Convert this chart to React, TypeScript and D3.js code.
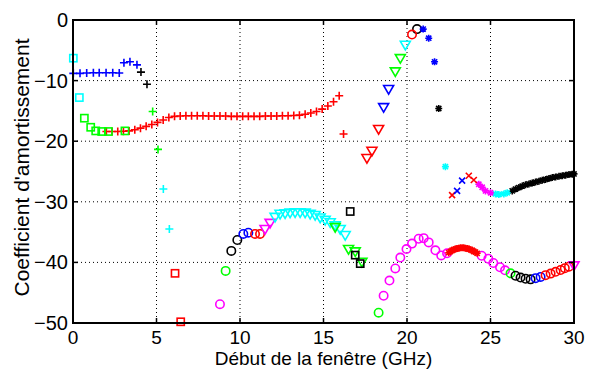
import React from "react";
import * as d3 from "d3";

// ---- data: [GHz, coefficient] pairs ----
const bluePlus: [number, number][] = [
  [0.02, -8.8], [0.42, -8.8], [0.82, -8.75], [1.22, -8.7], [1.57, -8.7], [1.98, -8.7], [2.38, -8.7], [2.77, -8.75],
  [3.05, -7.05], [3.41, -6.9], [3.83, -7.4],
];
const blackPlus: [number, number][] = [[4.07, -8.6], [4.43, -10.6]];
const redPlusX = [2.0, 2.34, 2.68, 3.02, 3.36, 3.7, 4.04, 4.38, 4.72, 5.06, 5.4, 5.74, 6.08, 6.42, 6.76, 7.1, 7.44, 7.78, 8.12, 8.46, 8.8, 9.14, 9.48, 9.82, 10.16, 10.5, 10.84, 11.18, 11.52, 11.86, 12.2, 12.54, 12.88, 13.22, 13.56, 13.9, 14.24, 14.58, 14.92, 15.26, 15.6, 15.94, 16.2];
const redPlusY = [-18.4, -18.4, -18.4, -18.35, -18.3, -18.1, -17.85, -17.55, -17.25, -16.9, -16.5, -16.1, -15.9, -15.85, -15.8, -15.8, -15.8, -15.8, -15.85, -15.85, -15.85, -15.85, -15.9, -15.9, -15.9, -15.9, -15.9, -15.9, -15.85, -15.85, -15.85, -15.8, -15.8, -15.75, -15.7, -15.55, -15.35, -15.1, -14.7, -14.2, -13.5, -12.5, -18.8];
const greenPlus: [number, number][] = [[4.77, -15.1], [5.09, -21.35]];
const cyanPlus: [number, number][] = [[5.41, -27.9], [5.77, -34.5]];

const cyanSquare: [number, number][] = [[0.02, -6.3], [0.38, -12.8]];
const greenSquare: [number, number][] = [[0.68, -16.2], [1.06, -17.7], [1.36, -18.3], [1.72, -18.4], [2.12, -18.4], [3.11, -18.3]];
const redSquare: [number, number][] = [[6.11, -41.8], [6.45, -49.8]];
const blackSquare: [number, number][] = [[16.6, -31.6], [16.9, -38.8], [17.2, -40.2]];

const magentaCircle: [number, number][] = [
  [8.8, -46.9], [18.6, -45.5], [18.95, -43.0], [19.3, -41.0], [19.6, -39.2], [19.97, -37.8], [20.3, -36.9], [20.7, -36.1],
  [21.0, -36.0], [21.3, -36.7], [21.7, -38.0], [22.05, -38.85], [22.4, -38.5],
  [24.47, -38.9], [24.87, -39.4], [25.17, -40.1], [25.57, -40.8], [25.87, -41.3],
];
const greenCircle: [number, number][] = [[9.14, -41.4], [18.3, -48.3], [26.2, -41.8]];
const blackCircle: [number, number][] = [[9.48, -38.1], [9.84, -36.3], [20.6, -1.5], [26.5, -42.2], [26.8, -42.5], [27.1, -42.7], [27.4, -42.8]];
const blueCircle: [number, number][] = [[10.2, -35.3], [10.5, -35.1], [27.7, -42.6], [28.0, -42.4]];
const redCircle: [number, number][] = [[10.9, -35.3], [11.2, -35.3], [20.3, -2.4], [28.3, -42.1], [28.6, -41.85], [28.9, -41.55], [29.2, -41.25], [29.45, -40.95], [29.7, -40.7]];

const magentaTri: [number, number][] = [[11.5, -34.5], [11.8, -33.5], [30.0, -40.5]];
const cyanTri: [number, number][] = [
  [12.1, -32.5], [12.4, -32.0], [12.7, -31.9], [13.0, -31.8], [13.3, -31.75], [13.6, -31.75], [13.9, -31.8], [14.2, -32.0],
  [14.5, -32.2], [14.8, -32.6], [15.1, -33.0], [15.4, -33.4], [15.7, -33.9], [16.0, -34.5], [16.3, -35.5], [19.9, -4.1],
];
const greenTri: [number, number][] = [[15.7, -34.2], [16.5, -37.8], [16.9, -38.2], [17.3, -39.9], [19.3, -8.5], [19.6, -6.3]];
const redTri: [number, number][] = [[17.6, -22.8], [17.9, -21.6], [18.3, -18.0]];
const blueTri: [number, number][] = [[18.6, -14.4], [18.9, -11.4]];

const blueStar: [number, number][] = [[20.97, -1.5], [21.3, -3.0], [21.65, -6.9]];
const blackStarX = [21.9, 26.3, 26.5, 26.7, 26.9, 27.1, 27.3, 27.5, 27.7, 27.9, 28.1, 28.3, 28.5, 28.7, 28.9, 29.1, 29.3, 29.5, 29.7, 29.9, 30.0];
const blackStarY = [-14.6, -28.2, -27.9, -27.65, -27.4, -27.2, -27.05, -26.9, -26.75, -26.6, -26.45, -26.3, -26.15, -26.0, -25.9, -25.8, -25.7, -25.6, -25.5, -25.45, -25.4];
const cyanStar: [number, number][] = [[22.3, -24.2], [25.3, -28.7], [25.5, -28.8], [25.8, -28.7], [26.0, -28.5]];
const magentaStar: [number, number][] = [[24.3, -27.1], [24.5, -27.6], [24.7, -28.2], [25.0, -28.5]];
const redStarX = [22.5, 22.6, 22.7, 22.8, 22.9, 23.0, 23.1, 23.2, 23.3, 23.4, 23.5, 23.6, 23.7, 23.8, 23.9, 24.0, 24.1, 24.2];
const redStarY = [-38.4, -38.2, -38.0, -37.9, -37.8, -37.7, -37.65, -37.6, -37.6, -37.6, -37.65, -37.7, -37.8, -37.9, -38.0, -38.2, -38.3, -38.5];

const redCross: [number, number][] = [[22.7, -28.9], [23.7, -25.7], [24.0, -26.4]];
const blueCross: [number, number][] = [[23.0, -28.2], [23.3, -26.5]];

const xTicks = [0, 5, 10, 15, 20, 25, 30];
const yTicks = [0, -10, -20, -30, -40, -50];
const xLabel = "Début de la fenêtre (GHz)";
const yLabel = "Coefficient d'amortissement";

const zip = (xs: number[], ys: number[]): [number, number][] => xs.map((x, i) => [x, ys[i]]);

type Marker = "plus" | "x" | "star" | "square" | "circle" | "tri";
const C = { b: "#0000ff", g: "#00ff00", r: "#ff0000", c: "#00ffff", m: "#ff00ff", k: "#000000" };

const series: { pts: [number, number][]; color: string; marker: Marker }[] = [
  { pts: bluePlus, color: C.b, marker: "plus" },
  { pts: blackPlus, color: C.k, marker: "plus" },
  { pts: zip(redPlusX, redPlusY), color: C.r, marker: "plus" },
  { pts: greenPlus, color: C.g, marker: "plus" },
  { pts: cyanPlus, color: C.c, marker: "plus" },
  { pts: cyanSquare, color: C.c, marker: "square" },
  { pts: greenSquare, color: C.g, marker: "square" },
  { pts: redSquare, color: C.r, marker: "square" },
  { pts: magentaCircle, color: C.m, marker: "circle" },
  { pts: greenCircle, color: C.g, marker: "circle" },
  { pts: blackCircle, color: C.k, marker: "circle" },
  { pts: blueCircle, color: C.b, marker: "circle" },
  { pts: redCircle, color: C.r, marker: "circle" },
  { pts: magentaTri, color: C.m, marker: "tri" },
  { pts: cyanTri, color: C.c, marker: "tri" },
  { pts: greenTri, color: C.g, marker: "tri" },
  { pts: redTri, color: C.r, marker: "tri" },
  { pts: blueTri, color: C.b, marker: "tri" },
  { pts: blackSquare, color: C.k, marker: "square" },
  { pts: blueStar, color: C.b, marker: "star" },
  { pts: zip(blackStarX, blackStarY), color: C.k, marker: "star" },
  { pts: cyanStar, color: C.c, marker: "star" },
  { pts: magentaStar, color: C.m, marker: "star" },
  { pts: zip(redStarX, redStarY), color: C.r, marker: "star" },
  { pts: redCross, color: C.r, marker: "x" },
  { pts: blueCross, color: C.b, marker: "x" },
];

const W = 589, H = 370;
const M = { left: 73, right: 574, top: 20, bottom: 323 };
const FONT = "'Liberation Sans', Arial, Helvetica, sans-serif";

function markerPath(m: Marker): string | null {
  const p = d3.path();
  if (m === "plus") { p.moveTo(-4, 0); p.lineTo(4, 0); p.moveTo(0, -4); p.lineTo(0, 4); }
  else if (m === "x") { p.moveTo(-3, -3); p.lineTo(3, 3); p.moveTo(-3, 3); p.lineTo(3, -3); }
  else if (m === "star") {
    p.moveTo(-3.5, 0); p.lineTo(3.5, 0); p.moveTo(0, -3.5); p.lineTo(0, 3.5);
    p.moveTo(-2.6, -2.6); p.lineTo(2.6, 2.6); p.moveTo(-2.6, 2.6); p.lineTo(2.6, -2.6);
  }
  else if (m === "tri") { p.moveTo(-5, -3.6); p.lineTo(5, -3.6); p.lineTo(0, 5); p.closePath(); }
  else return null;
  return p.toString();
}

export default function App() {
  const x = d3.scaleLinear().domain([0, 30]).range([M.left, M.right]);
  const y = d3.scaleLinear().domain([-50, 0]).range([M.bottom, M.top]);
  const tick = 5;
  return (
    <svg width={W} height={H} style={{ position: "absolute", left: 0, top: 0, background: "#fff" }} fontFamily={FONT}>
      <rect x={0} y={0} width={W} height={H} fill="#fff" />
      {/* grid */}
      {xTicks.slice(1, -1).map((t) => (
        <line key={"gx" + t} x1={x(t)} x2={x(t)} y1={M.top} y2={M.bottom} stroke="#000" strokeWidth={1} strokeDasharray="1,3" />
      ))}
      {yTicks.slice(1, -1).map((t) => (
        <line key={"gy" + t} x1={M.left} x2={M.right} y1={y(t)} y2={y(t)} stroke="#000" strokeWidth={1} strokeDasharray="1,3" />
      ))}
      {/* markers */}
      {series.map((s, si) => {
        const d = markerPath(s.marker);
        return (
          <g key={si} stroke={s.color} fill="none" strokeWidth={1.6}>
            {s.pts.map(([px, py], i) =>
              s.marker === "circle" ? (
                <circle key={i} cx={x(px)} cy={y(py)} r={4.2} />
              ) : s.marker === "square" ? (
                <rect key={i} x={x(px) - 3.6} y={y(py) - 3.6} width={7.2} height={7.2} />
              ) : (
                <path key={i} d={d as string} transform={`translate(${x(px)},${y(py)})`} />
              )
            )}
          </g>
        );
      })}
      {/* box */}
      <rect x={M.left} y={M.top} width={M.right - M.left} height={M.bottom - M.top} fill="none" stroke="#000" strokeWidth={2} />
      {/* ticks */}
      {xTicks.map((t) => (
        <g key={"tx" + t} stroke="#000" strokeWidth={1.5}>
          <line x1={x(t)} x2={x(t)} y1={M.bottom} y2={M.bottom - tick} />
          <line x1={x(t)} x2={x(t)} y1={M.top} y2={M.top + tick} />
        </g>
      ))}
      {yTicks.map((t) => (
        <g key={"ty" + t} stroke="#000" strokeWidth={1.5}>
          <line x1={M.left} x2={M.left + tick} y1={y(t)} y2={y(t)} />
          <line x1={M.right} x2={M.right - tick} y1={y(t)} y2={y(t)} />
        </g>
      ))}
      {/* tick labels */}
      {xTicks.map((t) => (
        <text key={"lx" + t} x={x(t)} y={344} textAnchor="middle" fontSize={19} fill="#000">{t}</text>
      ))}
      {yTicks.map((t) => (
        <text key={"ly" + t} x={68} y={y(t) + 7} textAnchor="end" fontSize={20} fill="#000">
          {t < 0 ? "\u2212" + Math.abs(t) : String(t)}
        </text>
      ))}
      <text x={(M.left + M.right) / 2} y={365.3} textAnchor="middle" fontSize={19} fill="#000">{xLabel}</text>
      <text transform={`translate(29,${(M.top + M.bottom) / 2 - 4}) rotate(-90)`} textAnchor="middle" fontSize={21} fill="#000">{yLabel}</text>
    </svg>
  );
}
